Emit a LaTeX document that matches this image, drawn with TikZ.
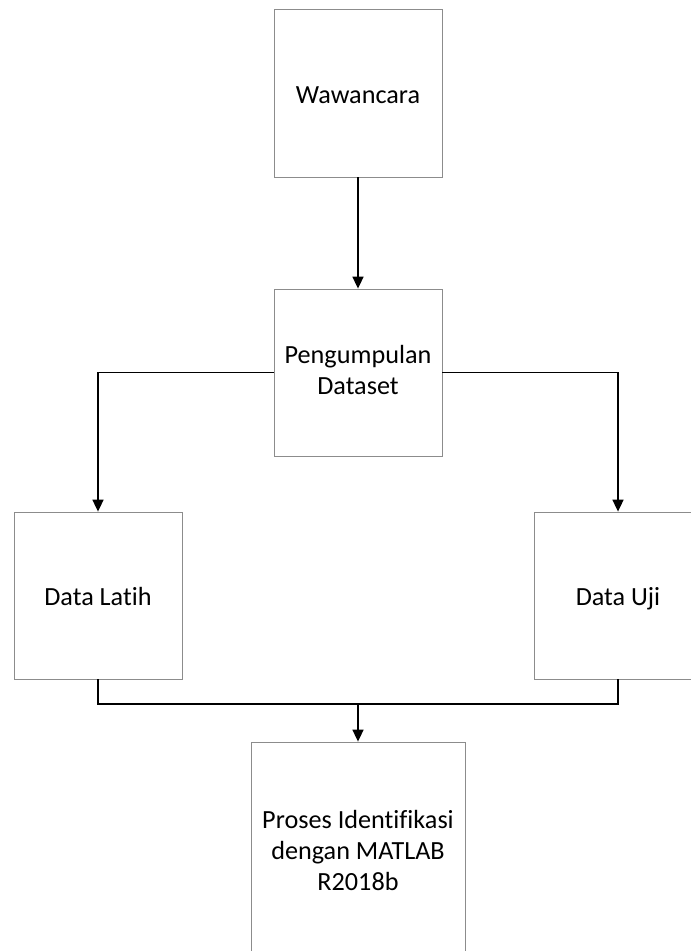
\documentclass[tikz,border=0pt]{standalone}
\usepackage{fontspec}
\setmainfont{Carlito}[Ligatures=NoCommon]
\usetikzlibrary{arrows.meta}
\newcommand{\tiang}{\rule[-5.2bp]{0pt}{31bp}}
\begin{document}
\begin{tikzpicture}[x=1bp,y=-1bp,
  blok/.style={draw=black!45,line width=0.8bp,fill=white,align=center,
    inner sep=0pt,font=\fontsize{26.3}{31}\selectfont,
    execute at begin node=\tiang,execute at end node=\tiang},
  panah/.style={draw,line width=1.7bp,-{Triangle[length=12bp,width=11bp]}}]
  \useasboundingbox (0,0) rectangle (691,951);
  \clip (0,0) rectangle (691,951);

  \node[blok,minimum width=168bp,minimum height=168bp] (wawancara) at (358,93) {Wawancara};
  \node[blok,minimum width=168bp,minimum height=167bp] (dataset) at (358,372.5) {Pengumpulan\\Dataset};

  \node[blok,minimum width=168bp,minimum height=167bp] (latih) at (98,595.5) {Data Latih};
  \node[blok,minimum width=168bp,minimum height=167bp] (uji) at (618,595.5) {Data Uji};

  \node[blok,minimum width=214bp,minimum height=222bp] (proses) at (358,853) {Proses Identifikasi\\dengan MATLAB\\R2018b};

  \coordinate (gabung) at (358,704);

  \path[panah] (wawancara) -- (dataset);
  \path[panah] (dataset.west) -| (latih);
  \path[panah] (dataset.east) -| (uji);
  \path[draw,line width=1.7bp] (latih.south) |- (gabung) -| (uji.south);
  \path[panah] (gabung) -- (proses);
\end{tikzpicture}
\end{document}
